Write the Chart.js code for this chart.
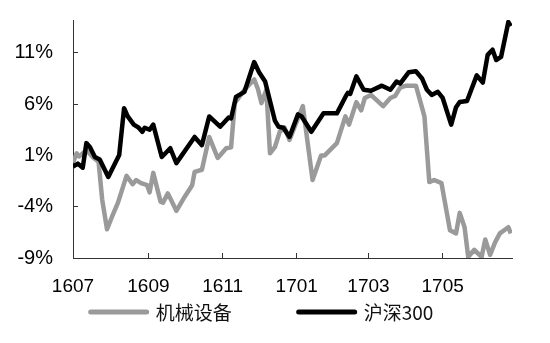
<!DOCTYPE html>
<html>
<head>
<meta charset="utf-8">
<script src="https://cdn.jsdelivr.net/npm/chart.js@4"></script>
<style>
  html, body { margin: 0; padding: 0; background: #fff; }
</style>
</head>
<body>
<canvas id="chart" width="550" height="343"></canvas>
<script>
// series names (legend)
const seriesNames = ["机械设备", "沪深300"];

// x axis: days since 2016-07-01, tick labels yymm
const xTickDays = [0, 62, 123, 184, 243, 304];
const xTickLabels = ["1607", "1609", "1611", "1701", "1703", "1705"];
const yTicks = [-9, -4, 1, 6, 11];

// 机械设备
const machDays = [0, 3, 5, 11, 17, 21, 24, 28, 32, 37, 44, 49, 52, 56, 61, 63, 66, 72, 74, 78, 85, 92, 98, 100, 106,
  112, 119, 126, 130, 133, 141, 149, 152, 155, 159, 162, 166, 170, 174, 178, 189, 197, 204, 207, 217, 224, 227, 233,
  237, 240, 245, 255, 261, 265, 269, 274, 282, 289, 293, 297, 303, 310, 315, 318, 322, 325, 330, 336, 339, 343, 347,
  351, 358, 360];
const machVals = [0.3, 1.2, 0.9, 1.5, 0.75, 0.4, -3.3, -6.2, -5.0, -3.6, -1.0, -1.8, -1.4, -1.7, -1.9, -2.6, -0.7, -3.5,
  -3.6, -2.7, -4.4, -3.0, -1.9, -0.6, -0.4, 2.8, 0.75, 1.7, 1.8, 6.1, 7.4, 8.4, 7.5, 6.1, 7.4, 1.2, 1.8, 3.3, 3.7, 2.5,
  5.8, -1.4, 1.0, 1.0, 2.2, 4.8, 4.0, 6.2, 5.4, 6.6, 6.9, 5.8, 6.6, 6.8, 7.6, 7.8, 7.8, 4.8, -1.6, -1.4, -1.7, -6.3,
  -6.6, -4.6, -6.0, -8.9, -8.2, -8.9, -7.2, -8.7, -7.5, -6.6, -6.0, -6.6];

// 沪深300
const hsDays = [0, 4, 8, 11, 14, 18, 22, 29, 38, 42, 45, 50, 54, 57, 59, 63, 66, 73, 80, 85, 100, 106, 112, 121, 128,
  130, 134, 141, 149, 153, 158, 166, 169, 173, 178, 185, 188, 196, 206, 217, 224, 226, 228, 233, 239, 245, 254, 261,
  266, 269, 276, 282, 287, 291, 295, 300, 304, 311, 315, 318, 324, 332, 337, 341, 345, 348, 352, 358, 360];
const hsVals = [-0.1, 0.2, -0.2, 2.2, 1.8, 0.85, 0.6, -1.1, 1.05, 5.6, 4.8, 4.0, 3.7, 3.3, 3.7, 3.5, 4.0, 0.85, 1.7,
  0.25, 2.8, 2.0, 4.8, 3.8, 4.7, 4.6, 6.7, 7.2, 10.1, 9.1, 8.2, 4.4, 3.8, 3.7, 2.8, 5.0, 4.8, 3.3, 5.1, 5.1, 6.7, 7.1,
  7.0, 8.7, 7.4, 7.3, 7.8, 7.4, 8.2, 8.0, 9.1, 9.2, 8.5, 7.4, 6.9, 7.2, 6.6, 4.0, 5.7, 6.2, 6.3, 8.8, 8.1, 10.8, 11.3,
  10.3, 10.6, 14.0, 13.6];

const toPoints = (xs, ys) => xs.map((x, i) => ({ x: x, y: ys[i] }));

// legend drawn under the axis, line sample + text
const bottomLegend = {
  id: "bottomLegend",
  afterDraw(chart) {
    const ctx = chart.ctx;
    const sampleW = 60, textGap = 7, itemGap = 65, cy = 313;
    ctx.save();
    ctx.font = '19px "Noto Sans CJK SC", sans-serif';
    ctx.textBaseline = "middle";
    const items = chart.data.datasets.map(ds => ({ label: ds.label, color: ds.borderColor, w: ctx.measureText(ds.label).width }));
    const total = items.reduce((s, it) => s + sampleW + textGap + it.w, 0) + itemGap * (items.length - 1);
    let x = 261 - total / 2;
    items.forEach(it => {
      ctx.strokeStyle = it.color;
      ctx.lineWidth = 5;
      ctx.lineCap = "round";
      ctx.beginPath();
      ctx.moveTo(x + 2, cy - 1);
      ctx.lineTo(x + sampleW - 2, cy - 1);
      ctx.stroke();
      ctx.fillStyle = "#111";
      ctx.fillText(it.label, x + sampleW + textGap, cy);
      x += sampleW + textGap + it.w + itemGap;
    });
    ctx.restore();
  }
};

new Chart(document.getElementById("chart").getContext("2d"), {
  type: "line",
  data: {
    datasets: [
      { label: seriesNames[0], data: toPoints(machDays, machVals), borderColor: "#9a9a9a", borderWidth: 4.5, order: 1 },
      { label: seriesNames[1], data: toPoints(hsDays, hsVals), borderColor: "#000000", borderWidth: 4.5, order: 0 }
    ]
  },
  options: {
    responsive: false,
    animation: false,
    layout: { padding: { top: 20, right: 38, bottom: 45, left: 0 } },
    elements: { point: { radius: 0 }, line: { tension: 0, borderJoinStyle: "round" } },
    plugins: { legend: { display: false }, tooltip: { enabled: false } },
    scales: {
      x: {
        type: "linear",
        min: 0,
        max: 361,
        afterBuildTicks: s => { s.ticks = xTickDays.map(v => ({ value: v })); },
        afterFit: s => { s.height = 40; s.paddingLeft = 0; s.paddingRight = 0; },
        grid: { display: true, drawOnChartArea: false, drawTicks: true, tickLength: -5, color: "#333" },
        border: { display: true, color: "#333", width: 1 },
        ticks: {
          padding: 22,
          color: "#000",
          font: { family: "'Liberation Sans', Arial, sans-serif", size: 19 },
          maxRotation: 0,
          autoSkip: false,
          callback: v => xTickLabels[xTickDays.indexOf(v)]
        }
      },
      y: {
        min: -9,
        max: 14.2,
        afterBuildTicks: s => { s.ticks = yTicks.map(v => ({ value: v })); },
        afterFit: s => { s.width = 73; s.paddingTop = 0; s.paddingBottom = 0; },
        grid: { display: true, drawOnChartArea: false, drawTicks: true, tickLength: -5, color: "#333" },
        border: { display: true, color: "#333", width: 1 },
        ticks: {
          padding: 25,
          color: "#000",
          font: { family: "'Liberation Sans', Arial, sans-serif", size: 20 },
          callback: v => v + "%"
        }
      }
    }
  },
  plugins: [bottomLegend]
});
</script>
</body>
</html>
